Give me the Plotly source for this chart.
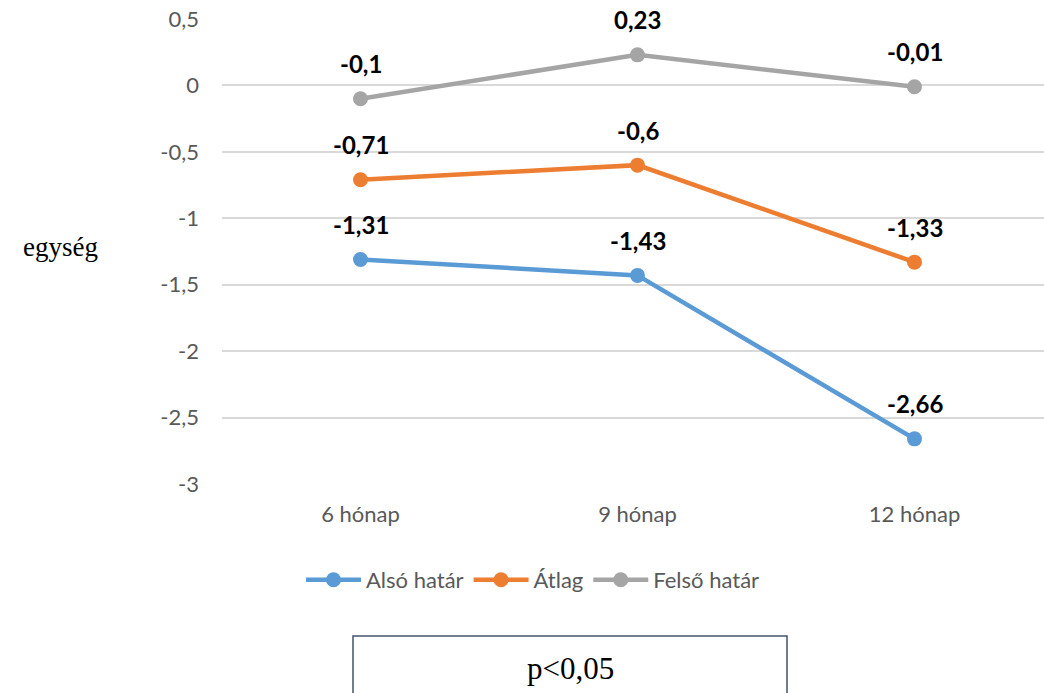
import plotly.graph_objects as go

categories = ["6 hónap", "9 hónap", "12 hónap"]
also_hatar = [-1.31, -1.43, -2.66]
atlag = [-0.71, -0.6, -1.33]
felso_hatar = [-0.1, 0.23, -0.01]
series_names = ["Alsó határ", "Átlag", "Felső határ"]
series_values = [also_hatar, atlag, felso_hatar]
series_colors = ["#5B9BD5", "#ED7D31", "#A5A5A5"]
y_ticks = [0.5, 0, -0.5, -1, -1.5, -2, -2.5, -3]
y_tick_labels = ["0,5", "0", "-0,5", "-1", "-1,5", "-2", "-2,5", "-3"]

def fmt(v):
    s = ("%g" % v).replace(".", ",")
    return s

fig = go.Figure()
for name, vals, col in zip(series_names, series_values, series_colors):
    fig.add_trace(go.Scatter(
        x=list(range(len(categories))), y=vals, name=name, mode="lines+markers",
        line=dict(color=col, width=4.5), marker=dict(color=col, size=15),
    ))

annotations = []
for vals in series_values:
    for i, v in enumerate(vals):
        annotations.append(dict(x=i, y=v, text="<b>" + fmt(v) + "</b>", showarrow=False,
                                yshift=35, font=dict(family="Lato", size=24, color="black")))

L, R, T, B = 222, 0, 19, 209
W, H = 1044, 693
pw = W - L - R
ph = H - T - B
def px(x):
    return (x - L) / pw
def py(y):
    return (H - B - y) / ph

annotations.append(dict(xref="paper", yref="paper", x=px(60), y=py(247), text="egység",
                        xanchor="center", yanchor="middle",
                        showarrow=False, font=dict(family="Liberation Serif", size=27, color="black")))
annotations.append(dict(xref="paper", yref="paper", x=px(570), y=py(668), text="p<0,05",
                        xanchor="center", yanchor="middle",
                        showarrow=False, font=dict(family="Liberation Serif", size=31, color="black")))

fig.add_shape(type="rect", xref="paper", yref="paper", x0=px(353), x1=px(787), y0=py(636), y1=py(730),
              line=dict(color="#44546A", width=1.5), fillcolor="rgba(0,0,0,0)")

fig.update_layout(
    width=W, height=H, margin=dict(l=L, r=R, t=T, b=B),
    plot_bgcolor="white", paper_bgcolor="white",
    annotations=annotations,
    showlegend=True,
    legend=dict(orientation="h", x=px(533), xanchor="center", y=py(580), yanchor="middle",
                font=dict(family="Lato", size=22, color="#595959"), itemwidth=55, tracegroupgap=0),
    xaxis=dict(range=[-0.5, 2.5 - 9 / 277], tickvals=list(range(len(categories))), ticktext=categories,
               showgrid=False, zeroline=False, showline=False, ticklabelstandoff=15,
               tickfont=dict(family="Lato", size=22, color="#595959")),
    yaxis=dict(range=[-3, 0.5], tickvals=y_ticks, ticktext=y_tick_labels, showgrid=True,
               gridcolor="#D9D9D9", gridwidth=1.5, zeroline=False, showline=False,
               ticklabelstandoff=22, tickfont=dict(family="Lato", size=22, color="#595959")),
)

fig.write_html("out.html", config={"displayModeBar": False},
               post_script="document.body.style.margin='0';document.body.style.padding='0';")
